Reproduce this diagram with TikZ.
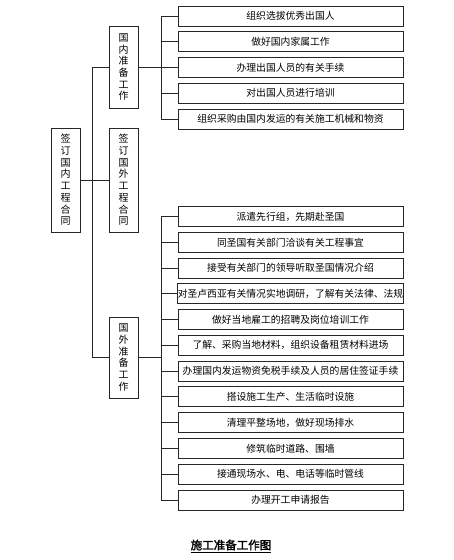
\documentclass[tikz,border=0pt]{standalone}
\usepackage{fontspec}
\setmainfont{Noto Sans CJK SC}
\newfontfamily\titlefont{Noto Sans CJK SC}[FakeBold=2]
\begin{document}
\begin{tikzpicture}[x=1pt,y=-1pt,
  line/.style={draw=black!85, line width=0.8pt},
  rbox/.style={draw=black!85, line width=0.8pt, fill=white, minimum width=225pt, minimum height=20pt, inner sep=0pt, font=\fontsize{9.8}{11}\selectfont},
  vbox/.style={draw=black!85, line width=0.8pt, fill=white, minimum width=29pt, inner sep=0pt, align=center, font=\fontsize{10}{11.7}\selectfont}]
\useasboundingbox[fill=white] (0,0) rectangle (453,560);

% left column
\node[vbox, minimum height=104pt] (m) at (65.5,180) {签\\订\\国\\内\\工\\程\\合\\同};
\node[vbox, minimum height=82pt] (gn) at (123.5,67) {国\\内\\准\\备\\工\\作};
\node[vbox, minimum height=104pt] (gw) at (123.5,180) {签\\订\\国\\外\\工\\程\\合\\同};
\node[vbox, minimum height=81pt] (gz) at (123.5,357.5) {国\\外\\准\\备\\工\\作};

\coordinate (t) at (92,0);
\draw[line] (m.east) -- (t |- m.east);
\draw[line] (t |- gn.west) -- (t |- gz.west);
\draw[line] (t |- gn.west) -- (gn.west);
\draw[line] (t |- gw.west) -- (gw.west);
\draw[line] (t |- gz.west) -- (gz.west);

% upper list
\node[rbox] (u1) at (290.5,16) {组织选拔优秀出国人};
\node[rbox] (u2) at (290.5,41.75) {做好国内家属工作};
\node[rbox] (u3) at (290.5,67.5) {办理出国人员的有关手续};
\node[rbox] (u4) at (290.5,93.25) {对出国人员进行培训};
\node[rbox] (u5) at (290.5,119) {组织采购由国内发运的有关施工机械和物资};

\coordinate (ub) at (161,0);
\draw[line] (ub |- u1.west) -- (ub |- u5.west);
\foreach \i in {1,...,5} \draw[line] (ub |- u\i.west) -- (u\i.west);
\draw[line] (gn.east) -- (ub |- gn.east);

% lower list
\node[rbox] (l1) at (290.5,216.5) {派遣先行组，先期赴圣国};
\node[rbox] (l2) at (290.5,242.27) {同圣国有关部门洽谈有关工程事宜};
\node[rbox] (l3) at (290.5,268.04) {接受有关部门的领导听取圣国情况介绍};
\node[rbox] (l4) at (290.5,293.81) {对圣卢西亚有关情况实地调研，了解有关法律、法规};
\node[rbox] (l5) at (290.5,319.58) {做好当地雇工的招聘及岗位培训工作};
\node[rbox] (l6) at (290.5,345.35) {了解、采购当地材料，组织设备租赁材料进场};
\node[rbox] (l7) at (290.5,371.12) {办理国内发运物资免税手续及人员的居住签证手续};
\node[rbox] (l8) at (290.5,396.89) {搭设施工生产、生活临时设施};
\node[rbox] (l9) at (290.5,422.66) {清理平整场地，做好现场排水};
\node[rbox] (l10) at (290.5,448.43) {修筑临时道路、围墙};
\node[rbox] (l11) at (290.5,474.2) {接通现场水、电、电话等临时管线};
\node[rbox] (l12) at (290.5,500) {办理开工申请报告};

\draw[line] (ub |- l1.west) -- (ub |- l12.west);
\foreach \i in {1,...,12} \draw[line] (ub |- l\i.west) -- (l\i.west);
\draw[line] (gz.east) -- (ub |- gz.east);

% title
\node[font=\fontsize{11.5}{13}\selectfont\titlefont] (title) at (231,546) {\underline{施工准备工作图}};
\end{tikzpicture}
\end{document}
